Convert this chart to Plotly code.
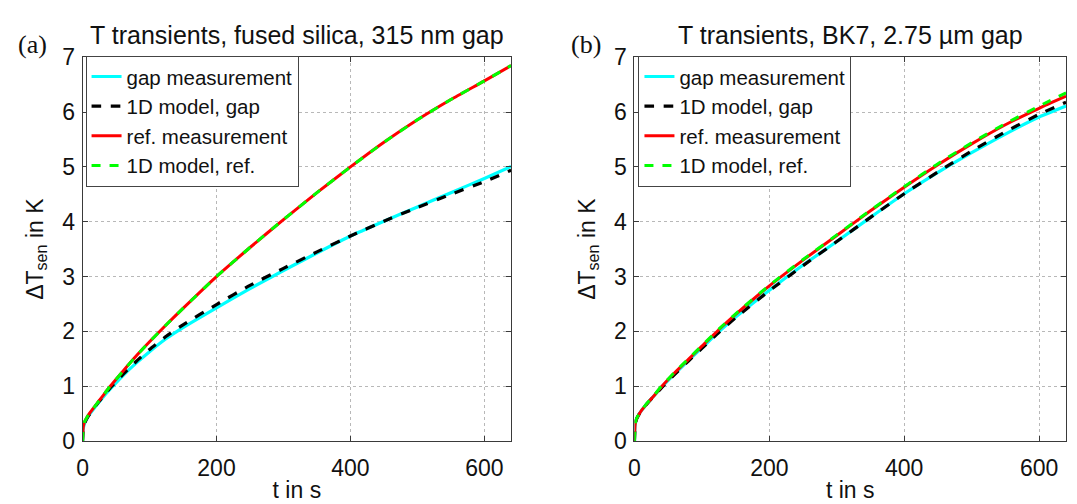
import plotly.graph_objects as go

# ---------------- data ----------------
t = [0, 1, 3, 6, 10, 20, 30, 40, 60, 80, 100, 125, 150, 200, 250, 300,
     350, 400, 450, 500, 550, 600, 640]

# (a) fused silica, 315 nm gap
a_gap_meas = [0, 0.22, 0.32, 0.40, 0.48, 0.64, 0.79, 0.93, 1.19, 1.42, 1.63, 1.87, 2.07,
              2.43, 2.78, 3.11, 3.43, 3.74, 4.01, 4.27, 4.53, 4.79, 5.01]
a_gap_model = [0, 0.22, 0.32, 0.40, 0.48, 0.65, 0.80, 0.95, 1.21, 1.45, 1.67, 1.91, 2.12,
               2.49, 2.84, 3.15, 3.45, 3.74, 4.01, 4.26, 4.50, 4.73, 4.94]
a_ref_meas = [0, 0.25, 0.35, 0.42, 0.50, 0.66, 0.82, 0.98, 1.27, 1.55, 1.81, 2.12, 2.42,
              3.00, 3.53, 4.04, 4.53, 5.00, 5.45, 5.86, 6.23, 6.57, 6.85]
a_ref_model = [0, 0.25, 0.35, 0.42, 0.50, 0.66, 0.82, 0.98, 1.27, 1.55, 1.81, 2.12, 2.42,
               3.00, 3.53, 4.04, 4.53, 5.00, 5.45, 5.86, 6.23, 6.57, 6.85]

# (b) BK7, 2.75 um gap
b_gap_meas = [0, 0.30, 0.40, 0.47, 0.55, 0.70, 0.84, 0.98, 1.23, 1.47, 1.70, 1.99, 2.26,
              2.75, 3.21, 3.64, 4.08, 4.51, 4.90, 5.26, 5.60, 5.91, 6.11]
b_gap_model = [0, 0.30, 0.40, 0.47, 0.55, 0.70, 0.83, 0.97, 1.22, 1.46, 1.69, 1.98, 2.25,
               2.74, 3.20, 3.64, 4.08, 4.51, 4.91, 5.29, 5.64, 5.96, 6.18]
b_ref_meas = [0, 0.30, 0.40, 0.47, 0.55, 0.70, 0.84, 0.99, 1.25, 1.49, 1.73, 2.03, 2.31,
              2.83, 3.30, 3.75, 4.20, 4.63, 5.04, 5.42, 5.77, 6.07, 6.29]
b_ref_model = [0, 0.31, 0.41, 0.48, 0.56, 0.71, 0.85, 1.00, 1.26, 1.50, 1.74, 2.04, 2.32,
               2.84, 3.31, 3.76, 4.21, 4.64, 5.06, 5.44, 5.79, 6.11, 6.35]

names = ["gap measurement", "1D model, gap", "ref. measurement", "1D model, ref."]
titles = ["T transients, fused silica, 315 nm gap", "T transients, BK7, 2.75 µm gap"]
panel_labels = ["(a)", "(b)"]
x_ticks = [0, 200, 400, 600]
y_ticks = [0, 1, 2, 3, 4, 5, 6, 7]

FONT = "Liberation Sans, Arial, sans-serif"
W, H = 1077, 504
FS = 23
LFS = 20.5

styles = [
    dict(color="#00FFFF", width=3.2, dash="solid"),
    dict(color="#000000", width=3.2, dash="dash"),
    dict(color="#FF0000", width=3.0, dash="solid"),
    dict(color="#00FF00", width=3.0, dash="dash"),
]

fig = go.Figure()

panels = [
    (a_gap_meas, a_gap_model, a_ref_meas, a_ref_model),
    (b_gap_meas, b_gap_model, b_ref_meas, b_ref_model),
]
xdomains = [[77 / W, 508 / W], [632 / W, 1066 / W]]
ydomain = [1 - 451.3 / H, 1 - 46.7 / H]

for i, series in enumerate(panels):
    xa = "x" if i == 0 else "x2"
    ya = "y" if i == 0 else "y2"
    lg = "legend" if i == 0 else "legend2"
    for name, ys, st in zip(names, series, styles):
        fig.add_trace(go.Scatter(
            x=t, y=ys, name=name, mode="lines",
            line=dict(shape="spline", smoothing=0.5, **st),
            xaxis=xa, yaxis=ya, legend=lg))

axis_common = dict(
    showline=True, linecolor="#3a3a3a", linewidth=1, mirror="ticks",
    ticks="inside", ticklen=5, tickcolor="#3a3a3a",
    showgrid=True, gridcolor="#b8b8b8", griddash="dot", gridwidth=1,
    zeroline=False, tickfont=dict(family=FONT, size=FS, color="#111"),
)
title_font = dict(family=FONT, size=FS, color="#111")

fig.update_layout(
    width=W, height=H,
    margin=dict(l=0, r=0, t=0, b=0),
    paper_bgcolor="white", plot_bgcolor="white",
    showlegend=True,
    xaxis=dict(domain=xdomains[0], range=[0, 640], tickvals=x_ticks, anchor="y",
               ticklabelstandoff=6,
               title=dict(text="t in s", font=title_font, standoff=2),
               **axis_common),
    yaxis=dict(domain=ydomain, range=[0, 7], tickvals=y_ticks, anchor="x",
               ticklabelstandoff=2,
               title=dict(text="ΔT<sub>sen</sub> in K", font=title_font, standoff=12),
               **axis_common),
    xaxis2=dict(domain=xdomains[1], range=[0, 640], tickvals=x_ticks, anchor="y2",
                ticklabelstandoff=6,
                title=dict(text="t in s", font=title_font, standoff=2),
                **axis_common),
    yaxis2=dict(domain=ydomain, range=[0, 7], tickvals=y_ticks, anchor="x2",
                ticklabelstandoff=2,
                title=dict(text="ΔT<sub>sen</sub> in K", font=title_font, standoff=12),
                **axis_common),
    legend=dict(x=80 / W, y=1 - 45 / H, xanchor="left", yanchor="top",
                bgcolor="white", bordercolor="#444", borderwidth=1,
                font=dict(family=FONT, size=LFS, color="#111"),
                tracegroupgap=0, itemwidth=30),
    legend2=dict(x=636 / W, y=1 - 45 / H, xanchor="left", yanchor="top",
                 bgcolor="white", bordercolor="#444", borderwidth=1,
                 font=dict(family=FONT, size=LFS, color="#111"),
                 tracegroupgap=0, itemwidth=30),
)

centers = [(77 + 508) / 2 / W, (632 + 1066) / 2 / W]
for i in range(2):
    fig.add_annotation(text=titles[i], x=centers[i], y=1 - 23 / H, xref="paper", yref="paper",
                       xanchor="center", yanchor="middle", showarrow=False,
                       font=dict(family=FONT, size=25, color="#111"))
label_x = [10 / W, 566 / W]
for i in range(2):
    fig.add_annotation(text=panel_labels[i], x=label_x[i], y=1 - 33 / H, xref="paper", yref="paper",
                       xanchor="left", yanchor="middle", showarrow=False,
                       font=dict(family="Liberation Serif, Times New Roman, serif", size=26, color="#111"))

fig.write_html("out.html")
